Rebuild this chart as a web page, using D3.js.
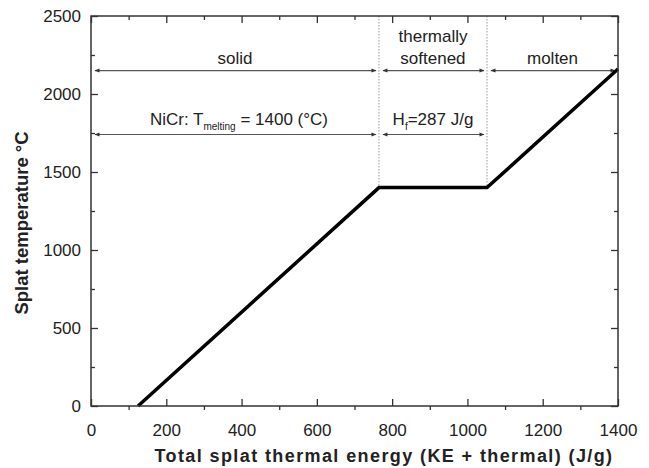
<!DOCTYPE html>
<html>
<head>
<meta charset="utf-8">
<script src="https://cdn.jsdelivr.net/npm/d3@7"></script>
<style>
  body { margin: 0; background: #fff; }
  text { font-family: "Liberation Sans", Arial, sans-serif; fill: #222; }
</style>
</head>
<body>
<script>
// splat temperature vs total energy
const energy = [125, 765, 1052, 1400]
const temperature = [0, 1400, 1400, 2160]

// region boundaries (J/g) and labels
const regionEdges = [0, 765, 1052, 1400]
const regionLabels = [['solid'], ['thermally', 'softened'], ['molten']]
const regionRowY = 2150
const meltRowY = 1740

const xTicks = [0, 200, 400, 600, 800, 1000, 1200, 1400]
const yTicks = [0, 500, 1000, 1500, 2000, 2500]

const width = 649
const height = 468
const margin = { top: 16, right: 31, bottom: 62, left: 91 }
const innerWidth = width - margin.left - margin.right
const innerHeight = height - margin.top - margin.bottom

const svg = d3.select('body').append('svg')
  .attr('width', width)
  .attr('height', height)

const defs = svg.append('defs')
defs.append('marker')
  .attr('id', 'arr')
  .attr('viewBox', '0 0 10 10')
  .attr('refX', 9).attr('refY', 5)
  .attr('markerWidth', 7).attr('markerHeight', 5)
  .attr('markerUnits', 'userSpaceOnUse')
  .attr('orient', 'auto-start-reverse')
  .append('path')
  .attr('d', 'M0,1L10,5L0,9Z')
  .attr('fill', '#333')

const g = svg.append('g')
  .attr('transform', `translate(${margin.left},${margin.top})`)

const xScale = d3.scaleLinear().domain([0, 1400]).range([0, innerWidth])
const yScale = d3.scaleLinear().domain([0, 2500]).range([innerHeight, 0])

// dotted region dividers
g.selectAll('.divider')
  .data(regionEdges.slice(1, 3))
  .enter().append('line')
    .attr('x1', d => xScale(d)).attr('x2', d => xScale(d))
    .attr('y1', 0).attr('y2', yScale(1400))
    .attr('stroke', '#999')
    .attr('stroke-width', 1)
    .attr('stroke-dasharray', '1.5,1.5')

// region arrows
const spans = regionEdges.slice(0, 3).map((d, i) => [d, regionEdges[i + 1]])
const gap = 3
spans.forEach((s, i) => {
  g.append('line')
    .attr('x1', xScale(s[0]) + gap + 1).attr('x2', xScale(s[1]) - gap)
    .attr('y1', yScale(regionRowY)).attr('y2', yScale(regionRowY))
    .attr('stroke', '#555').attr('stroke-width', 1.1)
    .attr('marker-start', 'url(#arr)').attr('marker-end', 'url(#arr)')
  const lines = regionLabels[i]
  lines.forEach((t, j) => {
    g.append('text')
      .attr('x', xScale((s[0] + s[1]) / 2))
      .attr('y', yScale(regionRowY) - 7 - (lines.length - 1 - j) * 22)
      .attr('text-anchor', 'middle')
      .attr('font-size', 17)
      .text(t)
  })
})

// melting row arrows (solid + latent heat)
spans.slice(0, 2).forEach(s => {
  g.append('line')
    .attr('x1', xScale(s[0]) + gap + 1).attr('x2', xScale(s[1]) - gap)
    .attr('y1', yScale(meltRowY)).attr('y2', yScale(meltRowY))
    .attr('stroke', '#555').attr('stroke-width', 1.1)
    .attr('marker-start', 'url(#arr)').attr('marker-end', 'url(#arr)')
})

const t1 = g.append('text')
  .attr('x', xScale((spans[0][0] + spans[0][1]) / 2) + 4)
  .attr('y', yScale(meltRowY) - 10)
  .attr('text-anchor', 'middle')
  .attr('font-size', 17)
t1.append('tspan').text('NiCr: T')
t1.append('tspan').text('melting').attr('font-size', 10).attr('dy', 5)
t1.append('tspan').text(' = 1400 (\u00B0C)').attr('dy', -5)

const t2 = g.append('text')
  .attr('x', xScale((spans[1][0] + spans[1][1]) / 2))
  .attr('y', yScale(meltRowY) - 10)
  .attr('text-anchor', 'middle')
  .attr('font-size', 17)
t2.append('tspan').text('H')
t2.append('tspan').text('f').attr('font-size', 10).attr('dy', 5)
t2.append('tspan').text('=287 J/g').attr('dy', -5)

// data line
const pts = energy.map((e, i) => [e, temperature[i]])
g.append('path')
  .datum(pts)
  .attr('d', d3.line().x(d => xScale(d[0])).y(d => yScale(d[1])))
  .attr('fill', 'none')
  .attr('stroke', '#000')
  .attr('stroke-width', 3.5)
  .attr('stroke-linejoin', 'miter')

// axes: major ticks inside, minor ticks
const axisColor = '#333'
const xMinor = d3.range(100, 1400, 200)
const yMinor = d3.range(250, 2500, 500)

function styleAxis(sel) {
  sel.selectAll('.domain').remove()
  sel.selectAll('line').attr('stroke', axisColor).attr('stroke-width', 1.3)
  sel.selectAll('text').attr('font-size', 17).attr('fill', '#222')
    .style('font-family', '"Liberation Sans", Arial, sans-serif')
}

// bottom
g.append('g')
  .attr('transform', `translate(0,${innerHeight})`)
  .call(d3.axisBottom(xScale).tickValues(xTicks).tickSizeInner(-7).tickSizeOuter(0).tickPadding(18).tickFormat(d3.format('d')))
  .call(styleAxis)
g.append('g')
  .attr('transform', `translate(0,${innerHeight})`)
  .call(d3.axisBottom(xScale).tickValues(xMinor).tickSize(4).tickFormat(''))
  .call(styleAxis)
// top
g.append('g')
  .call(d3.axisTop(xScale).tickValues(xTicks).tickSize(-7).tickFormat(''))
  .call(styleAxis)
g.append('g')
  .call(d3.axisTop(xScale).tickValues(xMinor).tickSize(-4).tickFormat(''))
  .call(styleAxis)
// left
g.append('g')
  .call(d3.axisLeft(yScale).tickValues(yTicks).tickSizeInner(-7).tickSizeOuter(0).tickPadding(10).tickFormat(d3.format('d')))
  .call(styleAxis)
g.append('g')
  .call(d3.axisLeft(yScale).tickValues(yMinor).tickSize(-4).tickFormat(''))
  .call(styleAxis)
// right
g.append('g')
  .attr('transform', `translate(${innerWidth},0)`)
  .call(d3.axisRight(yScale).tickValues(yTicks).tickSize(-7).tickFormat(''))
  .call(styleAxis)
g.append('g')
  .attr('transform', `translate(${innerWidth},0)`)
  .call(d3.axisRight(yScale).tickValues(yMinor).tickSize(-4).tickFormat(''))
  .call(styleAxis)

// frame
g.append('rect')
  .attr('width', innerWidth).attr('height', innerHeight)
  .attr('fill', 'none').attr('stroke', axisColor).attr('stroke-width', 1.5)

// axis titles
g.append('text')
  .attr('x', 384 - margin.left)
  .attr('y', innerHeight + 56)
  .attr('text-anchor', 'middle')
  .attr('font-size', 18)
  .attr('font-weight', 'bold')
  .attr('letter-spacing', 1.4)
  .text('Total splat thermal energy (KE + thermal) (J/g)')

g.append('text')
  .attr('transform', `translate(${-63},${223 - margin.top}) rotate(-90)`)
  .attr('text-anchor', 'middle')
  .attr('font-size', 18.5)
  .attr('font-weight', 'bold')
  .text('Splat temperature \u00B0C')
</script>
</body>
</html>
